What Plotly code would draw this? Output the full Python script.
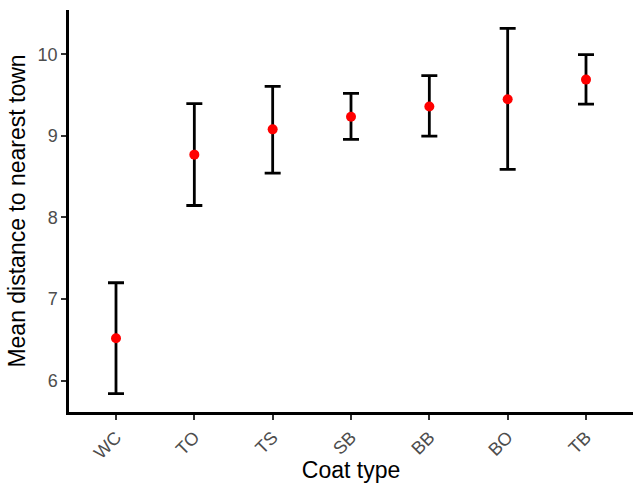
import plotly.graph_objects as go

categories = ["WC", "TO", "TS", "SB", "BB", "BO", "TB"]
means = [6.52, 8.77, 9.08, 9.235, 9.36, 9.45, 9.69]
upper = [7.20, 9.395, 9.607, 9.52, 9.739, 10.319, 9.996]
lower = [5.84, 8.147, 8.544, 8.957, 8.998, 8.589, 9.39]

err_plus = [u - m for u, m in zip(upper, means)]
err_minus = [m - l for m, l in zip(means, lower)]

fig = go.Figure()
fig.add_trace(go.Scatter(
    x=categories, y=means, mode="markers",
    marker=dict(color="#FF0000", size=10),
    error_y=dict(type="data", symmetric=False, array=err_plus, arrayminus=err_minus,
                 color="black", thickness=2.8, width=8),
    showlegend=False,
))

fig.update_layout(
    width=635, height=483,
    margin=dict(l=69, r=2, t=10, b=71),
    plot_bgcolor="white", paper_bgcolor="white",
    font=dict(family="Liberation Sans, Arial, sans-serif"),
)
fig.update_xaxes(
    type="category", range=[-0.6, 6.6], automargin=False,
    showline=True, linecolor="black", linewidth=2.5,
    ticks="outside", ticklen=5, tickwidth=2, tickcolor="#333333",
    tickangle=-45, tickfont=dict(size=18, color="#4D4D4D"),
    showgrid=False, zeroline=False,
    title=dict(text="Coat type", font=dict(size=23, color="black"), standoff=2),
)
fig.update_yaxes(
    range=[5.616, 10.543], automargin=False,
    tickvals=[6, 7, 8, 9, 10],
    showline=True, linecolor="black", linewidth=2.5,
    ticks="outside", ticklen=5, tickwidth=2, tickcolor="#333333",
    tickfont=dict(size=18, color="#4D4D4D"),
    showgrid=False, zeroline=False,
    title=dict(text="Mean distance to nearest town", font=dict(size=23, color="black"), standoff=6),
)

fig.write_html("out.html", config={"displayModeBar": False},
               post_script="document.body.style.margin='0';")
